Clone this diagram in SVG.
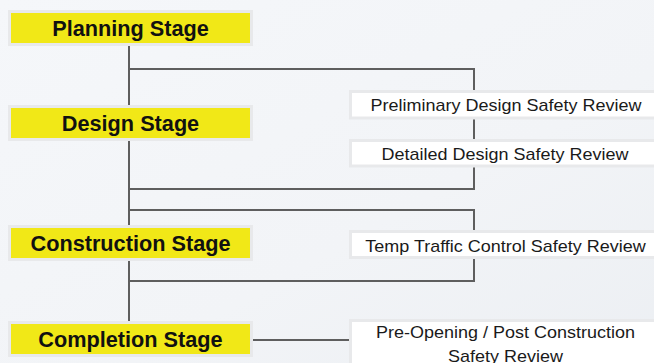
<svg xmlns="http://www.w3.org/2000/svg" width="654" height="363" viewBox="0 0 654 363">
  <defs>
    <linearGradient id="bg" x1="0" y1="0" x2="1" y2="1">
      <stop offset="0" stop-color="#f5f7fa"/>
      <stop offset="0.6" stop-color="#f2f4f7"/>
      <stop offset="1" stop-color="#eceff3"/>
    </linearGradient>
    <style>
      .stage { fill: #f1e817; stroke: #e8e9eb; stroke-width: 3; }
      .review { fill: #ffffff; stroke: #e8e9eb; stroke-width: 3; }
      .stage-label { font-family: "Liberation Sans", Arial, sans-serif; font-weight: bold; font-size: 21.7px; fill: #111111; text-anchor: middle; }
      .review-label { font-family: "Liberation Sans", Arial, sans-serif; font-size: 18px; fill: #1a1a1a; text-anchor: middle; }
      .link { fill: none; stroke: #5e5e5e; stroke-width: 2; }
    </style>
  </defs>

  <rect x="0" y="0" width="654" height="363" fill="url(#bg)"/>

  <!-- connectors -->
  <g id="connectors">
    <path class="link" d="M129 46 V105 M129 141 V225 M129 261 V321"/>
    <path class="link" d="M129 69 H474 V90"/>
    <path class="link" d="M474 119 V139"/>
    <path class="link" d="M474 167 V189 H129"/>
    <path class="link" d="M129 210 H474 V230"/>
    <path class="link" d="M474 259 V281 H129"/>
    <path class="link" d="M253 340 H349"/>
  </g>

  <!-- stages -->
  <g id="planning-stage">
    <rect class="stage" x="9.5" y="11.5" width="242" height="33"/>
    <text class="stage-label" x="130.5" y="36">Planning Stage</text>
  </g>
  <g id="design-stage">
    <rect class="stage" x="9.5" y="106.5" width="242" height="33"/>
    <text class="stage-label" x="130.5" y="130.7">Design Stage</text>
  </g>
  <g id="construction-stage">
    <rect class="stage" x="9.5" y="226.5" width="242" height="33"/>
    <text class="stage-label" x="130.5" y="250.7">Construction Stage</text>
  </g>
  <g id="completion-stage">
    <rect class="stage" x="9.5" y="322.5" width="242" height="33"/>
    <text class="stage-label" x="130.5" y="346.7">Completion Stage</text>
  </g>

  <!-- reviews: labels are slightly condensed vertically -->
  <g id="preliminary-design-review">
    <rect class="review" x="350.5" y="91.5" width="320" height="26.5"/>
    <text class="review-label" transform="translate(506 110.7) scale(1 0.9)">Preliminary Design Safety Review</text>
  </g>
  <g id="detailed-design-review">
    <rect class="review" x="350.5" y="140.5" width="320" height="25.5"/>
    <text class="review-label" transform="translate(505 160) scale(1 0.9)">Detailed Design Safety Review</text>
  </g>
  <g id="temp-traffic-control-review">
    <rect class="review" x="350.5" y="231.5" width="320" height="26"/>
    <text class="review-label" transform="translate(505.5 251.7) scale(1 0.9)">Temp Traffic Control Safety Review</text>
  </g>
  <g id="pre-opening-review">
    <rect class="review" x="350.5" y="320.5" width="320" height="60"/>
    <text class="review-label" transform="translate(505.5 338.3) scale(1 0.9)">Pre-Opening / Post Construction</text>
    <text class="review-label" transform="translate(505.5 362.3) scale(1 0.9)">Safety Review</text>
  </g>
</svg>
